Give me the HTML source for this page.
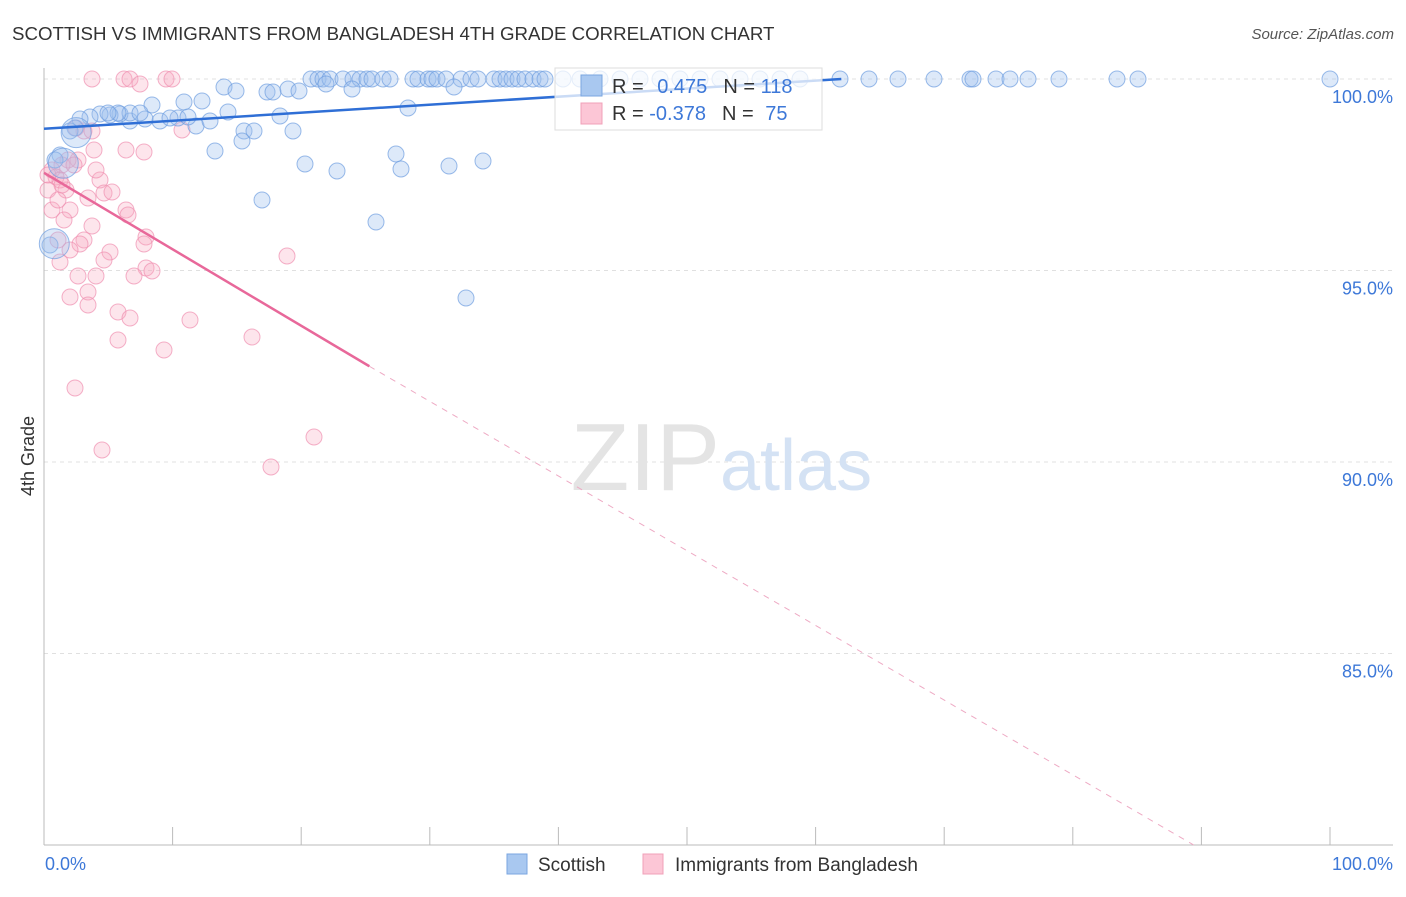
<!DOCTYPE html>
<html><head><meta charset="utf-8"><style>
body{margin:0;background:#fff;font-family:"Liberation Sans",sans-serif;}
svg text{font-family:"Liberation Sans",sans-serif;}
</style></head><body>
<svg id="chart" width="1406" height="892" xmlns="http://www.w3.org/2000/svg">
<text x="12" y="40" font-size="18.7" fill="#333">SCOTTISH VS IMMIGRANTS FROM BANGLADESH 4TH GRADE CORRELATION CHART</text>
<text x="1394" y="39" font-size="15" fill="#555" font-style="italic" text-anchor="end">Source: ZipAtlas.com</text>
<g id="grid"></g>
<text x="720" y="490" font-size="96" fill="#e4e4e4" font-family="Liberation Serif" text-anchor="end">ZIP</text>
<text x="720" y="490" font-size="72" fill="#d4e2f4">atlas</text>
<g id="pts"></g>
<g id="trend"></g>
<text x="34" y="456" font-size="18" fill="#333" transform="rotate(-90 34 456)" text-anchor="middle">4th Grade</text>
<g>
<rect x="555" y="68" width="267" height="62" fill="#fff" fill-opacity="0.75" stroke="#ddd"/>
<rect x="581" y="75" width="21" height="21" fill="#a9c8f0" stroke="#7aa6e0"/>
<rect x="581" y="103" width="21" height="21" fill="#fcc6d6" stroke="#f0a0b8"/>
<text x="612" y="93" font-size="20" fill="#333">R = <tspan fill="#3d78d8" dx="8">0.475</tspan><tspan dx="16" fill="#333">N = </tspan><tspan fill="#3d78d8">118</tspan></text>
<text x="612" y="120" font-size="20" fill="#333">R = <tspan fill="#3d78d8">-0.378</tspan><tspan dx="16" fill="#333">N = </tspan><tspan fill="#3d78d8" dx="6">75</tspan></text>
</g>
<g>
<rect x="507" y="854" width="20" height="20" fill="#a9c8f0" stroke="#7aa6e0"/>
<text x="538" y="871" font-size="19" fill="#333">Scottish</text>
<rect x="643" y="854" width="20" height="20" fill="#fcc6d6" stroke="#f0a0b8"/>
<text x="675" y="871" font-size="19" fill="#333">Immigrants from Bangladesh</text>
</g>
</svg>
<script>
const yTicks=[100,95,90,85];
const yTickLabels=["100.0%","95.0%","90.0%","85.0%"];
const xTickLabels=["0.0%","100.0%"];
const blueXY=[[311,79],[318,79],[323,79],[330,79],[343,79],[353,79],[360,79],[367,79],[372,79],[383,79],[390,79],[413,79],[418,79],[428,79],[432,79],[437,79],[446,79],[461,79],[471,79],[478,79],[494,79],[500,79],[506,79],[512,79],[518,79],[525,79],[533,79],[540,79],[545,79],[563,79],[580,79],[600,79],[620,79],[640,79],[660,79],[680,79],[700,79],[720,79],[740,79],[760,79],[780,79],[800,79],[840,79],[869,79],[898,79],[934,79],[970,79],[973,79],[996,79],[1010,79],[1028,79],[1059,79],[1117,79],[1138,79],[1330,79],[224,87],[236,91],[267,92],[273,92],[288,89],[299,91],[352,89],[326,84],[454,87],[408,108],[152,105],[184,102],[202,101],[228,112],[280,116],[244,131],[254,131],[242,141],[215,151],[293,131],[196,126],[210,121],[160,121],[178,118],[188,117],[170,118],[145,119],[130,121],[120,114],[110,115],[100,114],[90,117],[80,119],[75,128],[70,131],[60,155],[55,160],[50,245],[305,164],[337,171],[396,154],[401,169],[449,166],[483,161],[262,200],[376,222],[466,298],[130,113],[140,113],[118,113],[108,113]];
const pinkXY=[[92,79],[124,79],[130,79],[140,84],[166,79],[172,79],[76,128],[84,131],[92,131],[78,160],[68,160],[62,165],[52,170],[56,177],[60,180],[48,190],[66,190],[100,180],[104,193],[52,210],[70,210],[64,220],[92,226],[84,240],[80,244],[58,240],[70,250],[60,262],[110,252],[104,260],[126,150],[144,152],[94,150],[96,170],[88,198],[126,210],[128,215],[146,237],[144,244],[146,268],[152,271],[134,276],[96,276],[78,276],[70,297],[88,292],[88,305],[118,312],[130,318],[190,320],[118,340],[164,350],[252,337],[287,256],[75,388],[102,450],[271,467],[314,437],[182,130],[112,192],[58,200],[74,165],[48,175],[62,185]];
const blueData=blueXY.map(p=>[(p[0]-44)/12.86,100-(p[1]-79)/38.3]);
const pinkData=pinkXY.map(p=>[(p[0]-44)/12.86,100-(p[1]-79)/38.3]);
const bigBlue=[[1.5,97.8],[2.5,98.6],[0.8,95.7]];
const blueTrend=[[0,98.7],[62,100]];
const pinkTrendSolid=[[0,97.55],[25.3,92.5]];
const pinkTrendDash=[[25.3,92.5],[89.4,80]];
const X=v=>44+v*12.86, Y=v=>79+(100-v)*38.3;
const NS="http://www.w3.org/2000/svg";
function mk(t,a,p){const e=document.createElementNS(NS,t);for(const k in a)e.setAttribute(k,a[k]);p.appendChild(e);return e;}
const grid=document.getElementById('grid');
yTicks.forEach((v,i)=>{
 const l=mk('line',{x1:44,x2:1393,y1:Y(v),y2:Y(v),stroke:'#e0e0e0','stroke-dasharray':'4,4'},grid);
 
 
 const t=mk('text',{x:1393,y:Y(v)+24,'font-size':18,fill:'#3d78d8','text-anchor':'end'},grid);
 t.textContent=yTickLabels[i];
 
 
});
let ax=mk('line',{x1:44,x2:44,y1:68,y2:845,stroke:'#bbb'},grid);


ax=mk('line',{x1:44,x2:1393,y1:845,y2:845,stroke:'#bbb'},grid);


for(let i=0;i<=10;i++){const tk=mk('line',{x1:X(i*10),x2:X(i*10),y1:827,y2:845,stroke:'#bbb'},grid);
 
 }
[[0,'start',45],[100,'end',1393]].forEach((d,i)=>{const t=mk('text',{x:d[2],y:870,'font-size':18,fill:'#3d78d8','text-anchor':d[1]},grid);t.textContent=xTickLabels[i];
 
 });
const pts=document.getElementById('pts');
pinkData.forEach(d=>{const c=mk('circle',{cx:X(d[0]),cy:Y(d[1]),r:8,fill:'#f7a8c0','fill-opacity':0.3,stroke:'#f090b0','stroke-opacity':0.7},pts);
 
 });
blueData.forEach(d=>{const c=mk('circle',{cx:X(d[0]),cy:Y(d[1]),r:8,fill:'#9ec0ee','fill-opacity':0.35,stroke:'#6f9ee0','stroke-opacity':0.7},pts);
 
 });
bigBlue.forEach(d=>{const c=mk('circle',{cx:X(d[0]),cy:Y(d[1]),r:15,fill:'#9ec0ee','fill-opacity':0.35,stroke:'#6f9ee0','stroke-opacity':0.7},pts);
 
 });
const tr=document.getElementById('trend');
function ln(a,st,extra,name){const l=mk('line',Object.assign({x1:X(a[0][0]),y1:Y(a[0][1]),x2:X(a[1][0]),y2:Y(a[1][1]),stroke:st},extra),tr);
 
 }
ln(blueTrend,'#2f6fd6',{'stroke-width':2.5},'scottish-trend-line');
ln(pinkTrendSolid,'#e8689a',{'stroke-width':2.5},'bangladesh-trend-line');
ln(pinkTrendDash,'#eeaac4',{'stroke-width':1,'stroke-dasharray':'6,6'},'bangladesh-trend-extension');
</script>
</body></html>
